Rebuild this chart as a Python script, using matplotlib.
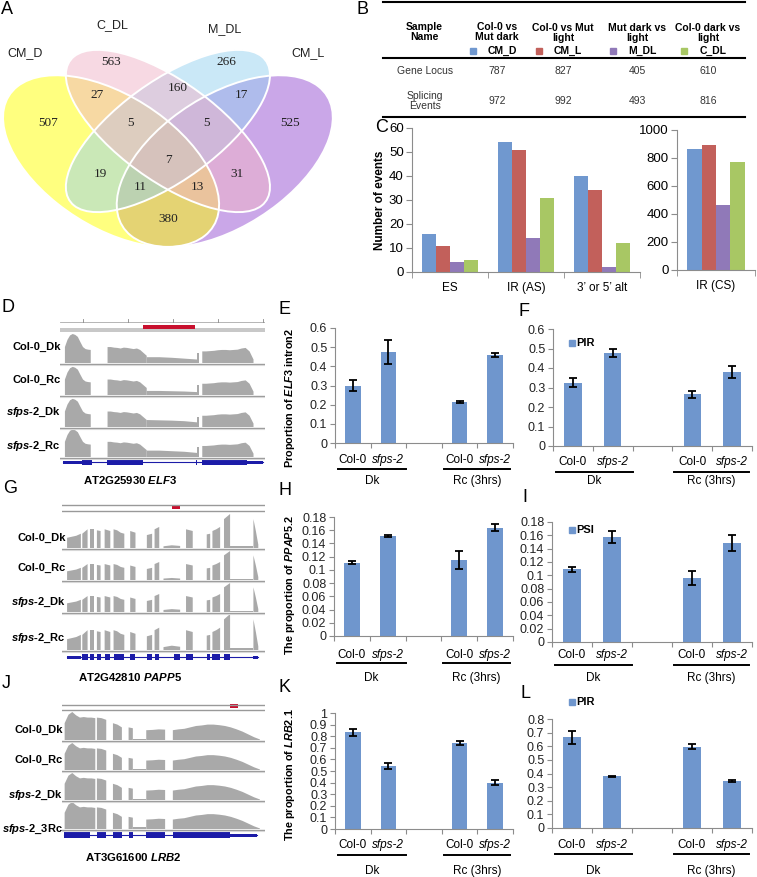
import numpy as np
import matplotlib
matplotlib.use('Agg')
import matplotlib.pyplot as plt
from matplotlib.patches import Ellipse, Rectangle
from matplotlib.lines import Line2D

plt.rcParams['font.family'] = ['Liberation Sans', 'DejaVu Sans']
plt.rcParams['mathtext.fontset'] = 'custom'
plt.rcParams['mathtext.it'] = 'Liberation Sans:italic:bold'
plt.rcParams['mathtext.rm'] = 'Liberation Sans:bold'
plt.rcParams['mathtext.bf'] = 'Liberation Sans:bold'

# ---------------- DATA ----------------
venn_sets = ['CM_D', 'C_DL', 'M_DL', 'CM_L']
venn_regions = ['A', 'B', 'C', 'D', 'AB', 'BC', 'CD', 'ABC', 'BCD', 'ABCD', 'AC', 'BD', 'ACD', 'ABD', 'AD']
venn_counts = [507, 563, 266, 525, 27, 160, 17, 5, 5, 7, 19, 31, 11, 13, 380]

table_cols = ['Col-0 vs\nMut dark', 'Col-0 vs Mut\nlight', 'Mut dark vs\nlight', 'Col-0 dark vs\nlight']
table_keys = ['CM_D', 'CM_L', 'M_DL', 'C_DL']
table_gene_locus = [787, 827, 405, 610]
table_splicing = [972, 992, 493, 816]

C_categories = ['ES', 'IR (AS)', '3\u2019 or 5\u2019 alt', 'IR (CS)']
C_CM_D = [16, 54, 40, 866]
C_CM_L = [11, 51, 34, 895]
C_M_DL = [4, 14, 2, 465]
C_C_DL = [5, 31, 12, 770]

track_names = ['Col-0_Dk', 'Col-0_Rc', '$\\mathit{sfps}$-$\\mathit{2}$_Dk', '$\\mathit{sfps}$-$\\mathit{2}$_Rc']
track_names_J = ['Col-0_Dk', 'Col-0_Rc', '$\\mathit{sfps}$-$\\mathit{2}$_Dk', '$\\mathit{sfps}$-$\\mathit{2}$_3Rc']

ELF3_blocks = [(2.4, 15.0, [.55, .8, .95, 1.0, .97, .9, .72, .55, .48, .46, .45]),
               (23.2, 42.3, [.55, .55, .53, .52, .5, .53, .52, .5, .48, .5, .45, .35, .25]),
               (66.9, 67.9, [.35, .35]),
               (69.4, 94.4, [.4, .4, .41, .42, .44, .45, .45, .44, .45, .46, .5, .52, .4, .12])]
ELF3_intron = (42.3, 66.9)
ELF3_intron_cov = [[.2, .2, .18, .15, .12], [.14, .14, .13, .12, .1],
                   [.24, .23, .22, .2, .16], [.22, .22, .2, .18, .14]]
ELF3_scale = [1.0, 0.97, 0.97, 0.95]
ELF3_model = [(1.5, 10.7, 'utr'), (10.7, 15.6, 'cds'), (22.9, 40.5, 'cds'), (66.2, 67.0, 'cds'),
              (69.3, 91.2, 'cds'), (91.2, 99.0, 'utr')]

PAPP5_blocks = [(2.5, 9.3, [.30, .33, .36, .42]), (10.0, 12.6, [.42, .55]), (13.9, 15.7, [.55, .55]),
                (17.2, 19.0, [.52, .50]), (21.0, 23.8, [.55, .5]), (25.4, 30.7, [.55, .52, .45, .42]),
                (33.6, 36.2, [.5, .45]), (41.8, 44.4, [.38, .42]), (45.6, 47.9, [.55, .62]),
                (61.1, 64.4, [.55, .5]), (71.3, 73.0, [.4, .42]), (74.1, 77.9, [.5, .55, .62]),
                (79.8, 82.8, [.85, 1.0]), (82.8, 94.3, [.05, .05]), (94.3, 96.7, [.85, .5, .1])]
PAPP5_intron = (50.0, 58.2)
PAPP5_intron_cov = [[.05, .08, .06], [.05, .07, .05], [.07, .1, .08], [.08, .12, .09]]
PAPP5_scale = [1.0, 1.0, 1.0, 1.0]
PAPP5_model = [(2.5, 9.3, 'utr'), (10.0, 12.6, 'cds'), (13.9, 15.7, 'cds'), (17.2, 19.0, 'cds'),
               (21.0, 23.8, 'cds'), (25.4, 30.7, 'cds'), (33.6, 36.2, 'cds'), (41.8, 44.4, 'cds'),
               (45.6, 47.9, 'cds'), (55.0, 58.2, 'cds'), (61.1, 64.4, 'cds'), (71.3, 73.0, 'cds'),
               (74.1, 77.9, 'cds'), (79.8, 82.8, 'cds'), (94.3, 96.7, 'utr')]

LRB2_blocks = [(1.3, 16.4, [.6, .9, 1.0, .88, .8, .82, .8, .8, .78]), (17.2, 21.8, [.8, .78, .72]),
               (25.1, 29.5, [.6, .55, .45]), (32.8, 34.9, [.45, .42]), (41.5, 50.8, [.35, .36, .38, .37]),
               (54.6, 97.5, [.35, .38, .4, .45, .5, .52, .55, .55, .53, .5, .45, .38, .3, .2, .1, .02])]
LRB2_intron = (34.9, 41.5)
LRB2_intron_cov = [[.04, .04], [.03, .03], [.05, .05], [.06, .06]]
LRB2_scale = [1.0, 1.0, 1.0, 1.0]
LRB2_model = [(1.0, 14.0, 'cds'), (17.2, 21.8, 'cds'), (25.1, 29.5, 'cds'), (32.8, 34.9, 'cds'),
              (41.5, 50.8, 'cds'), (54.6, 83.0, 'cds'), (83.0, 96.0, 'utr')]

bar_groups = ['Dk', 'Rc (3hrs)']
bar_genotypes = ['Col-0', 'sfps-2']
E_vals = [0.30, 0.475, 0.215, 0.46];   E_err = [0.03, 0.062, 0.006, 0.012]
F_vals = [0.325, 0.478, 0.265, 0.378]; F_err = [0.024, 0.02, 0.017, 0.03]
H_vals = [0.111, 0.151, 0.115, 0.164]; H_err = [0.002, 0.002, 0.014, 0.005]
I_vals = [0.109, 0.158, 0.096, 0.149]; I_err = [0.004, 0.009, 0.011, 0.012]
K_vals = [0.835, 0.54, 0.74, 0.40];    K_err = [0.03, 0.025, 0.017, 0.022]
L_vals = [0.665, 0.38, 0.595, 0.345];  L_err = [0.045, 0.005, 0.018, 0.006]

# ---------------- STYLE / LAYOUT ----------------
W, H = 757, 877
fig = plt.figure(figsize=(W / 100, H / 100), dpi=100)
BAR_BLUE = '#6F96CD'
C_COLORS = ['#7098CF', '#C2605B', '#9079B8', '#A8C764']
AXC = '#8C8C8C'
COV = '#A9A9A9'
GENE = '#1C1CA8'


def fx(x):
    return x / W


def fy(y):
    return 1 - y / H


def add_ax(x0, y0, x1, y1):
    return fig.add_axes([x0 / W, 1 - y1 / H, (x1 - x0) / W, (y1 - y0) / H])


def ftext(x, y, s, **kw):
    kw.setdefault('ha', 'center')
    kw.setdefault('va', 'center')
    return fig.text(fx(x), fy(y), s, **kw)


def fline(x0, x1, y0, y1=None, lw=1.0, color='black'):
    if y1 is None:
        y1 = y0
    fig.add_artist(Line2D([fx(x0), fx(x1)], [fy(y0), fy(y1)], lw=lw, color=color))


# panel letters
for letter, (lx, ly) in zip('ABCDEFGHIJKL',
                            [(7, 9), (363, 9), (382, 127), (8, 308), (285, 309), (524, 312),
                             (10, 489), (285, 491), (525, 498), (6, 684), (285, 688), (525, 694)]):
    ftext(lx, ly, letter, fontsize=13, ha='center')

# ---------------- A: Venn ----------------
axA = add_ax(0, 40, 340, 250)
axA.set_xlim(0.057, 0.954)
axA.set_ylim(0.175, 0.872)
axA.axis('off')
ell_params = {  # canonical 4-set layout
    'CM_D': ((0.35, 0.47), 0.70, 0.40, 135),
    'C_DL': ((0.50, 0.57), 0.70, 0.30, 135),
    'M_DL': ((0.50, 0.57), 0.70, 0.30, 45),
    'CM_L': ((0.65, 0.47), 0.70, 0.40, 45),
}
venn_colors = {'CM_D': '#FFFF00', 'C_DL': '#F0B4C8', 'M_DL': '#96D2F0', 'CM_L': '#9650D2'}
for s in ['CM_L', 'CM_D', 'M_DL', 'C_DL']:
    c, w, h, a = ell_params[s]
    axA.add_patch(Ellipse(c, w, h, angle=a, facecolor=venn_colors[s], alpha=0.5, edgecolor='none'))
for s in venn_sets:
    c, w, h, a = ell_params[s]
    axA.add_patch(Ellipse(c, w, h, angle=a, facecolor='none', edgecolor='white', lw=1.4))
venn_label_pos = {'A': (48, 123), 'B': (111, 62), 'C': (226, 62), 'D': (290, 123), 'AB': (97, 95),
                  'BC': (178, 88), 'CD': (241, 95), 'ABC': (130, 123), 'BCD': (207, 123),
                  'ABCD': (168, 160), 'AC': (100, 174), 'BD': (237, 174), 'ACD': (140, 187),
                  'ABD': (197, 187), 'AD': (168, 219)}
for r, n in zip(venn_regions, venn_counts):
    px, py = venn_label_pos[r]
    ftext(px, py, str(n), fontsize=9.5, family='Liberation Serif', color='#222222')
for s, (px, py) in zip(venn_sets, [(25, 53), (112, 25), (225, 29), (308, 53)]):
    ftext(px, py, s, fontsize=9, color='#222222')

# ---------------- B: table ----------------
fline(383, 745, 2, lw=1.5)
fline(383, 745, 58, lw=1.5)
fline(383, 745, 117, lw=1.5)
ftext(424, 32, 'Sample\nName', fontsize=7.5, fontweight='bold', linespacing=1.05)
col_x = [497, 563, 637, 708]
for i, (cx, head, key) in enumerate(zip(col_x, table_cols, table_keys)):
    ftext(cx, 32 if i == 0 else 33, head, fontsize=7.5, fontweight='bold', linespacing=1.05)
    ftext(cx + 5, 51, key, fontsize=7.5, fontweight='bold')
    fig.add_artist(Rectangle((fx(cx - 27), fy(54)), 6 / W, 6 / H, color=C_COLORS[i]))
    ftext(cx, 71, str(table_gene_locus[i]), fontsize=7.5, color='#333333')
    ftext(cx, 101, str(table_splicing[i]), fontsize=7.5, color='#333333')
ftext(425, 71, 'Gene Locus', fontsize=7.5, color='#333333')
ftext(425, 101, 'Splicing\nEvents', fontsize=7.5, color='#333333', linespacing=1.05)

# ---------------- C: bar chart ----------------
series = [C_CM_D, C_CM_L, C_M_DL, C_C_DL]
bw = 0.185


def style_c(ax, n):
    for sp in ['top', 'right']:
        ax.spines[sp].set_visible(False)
    for sp in ['left', 'bottom']:
        ax.spines[sp].set_color(AXC)
    ax.set_xlim(-0.5, n - 0.5)
    ax.set_xticks(range(n))
    ax.set_xticks(np.arange(-0.5, n, 1), minor=True)
    ax.tick_params(axis='x', which='major', length=0, pad=7, labelsize=8.5)
    ax.tick_params(axis='x', which='minor', length=4, color=AXC, direction='out')
    ax.tick_params(axis='y', length=4, color=AXC, labelsize=9.5, pad=2)


axC1 = add_ax(412, 128, 640, 272)
for k, sv in enumerate(series):
    axC1.bar(np.arange(3) + (k - 1.5) * bw, sv[:3], width=bw, color=C_COLORS[k])
axC1.set_ylim(0, 60)
axC1.set_yticks(range(0, 61, 10))
style_c(axC1, 3)
axC1.set_xticklabels(C_categories[:3])
axC1.set_ylabel('Number of events', fontsize=8.5, fontweight='bold', labelpad=2)

axC2 = add_ax(677, 130, 755, 270)
for k, sv in enumerate(series):
    axC2.bar([(k - 1.5) * bw], sv[3:], width=bw, color=C_COLORS[k])
axC2.set_ylim(0, 1000)
axC2.set_yticks(range(0, 1001, 200))
style_c(axC2, 1)
axC2.set_xticklabels(C_categories[3:])


# ---------------- D, G, J: coverage tracks ----------------
def draw_tracks(box, blocks, intron, intron_cov, scales, baselines, heights, names, label_x,
                label_ys, model, model_y, gene_label, gene_label_xy):
    x0, y0, x1, y1 = box
    ax = add_ax(x0, y0, x1, y1)
    ax.set_xlim(0, 100)
    ax.set_ylim(y1, y0)
    ax.axis('off')
    for t, (base, hgt) in enumerate(zip(baselines, heights)):
        sc = scales[t]
        for (s, e, hs) in blocks:
            xs = np.linspace(s, e, len(hs))
            ax.fill(np.r_[s, xs, e], np.r_[base, base - np.array(hs) * hgt * sc, base],
                    color=COV, lw=0)
        ih = intron_cov[t]
        xs = np.linspace(intron[0], intron[1], len(ih))
        ax.fill(np.r_[intron[0], xs, intron[1]], np.r_[base, base - np.array(ih) * hgt, base],
                color=COV, lw=0)
        ax.plot([0, 100], [base + 0.6, base + 0.6], color='#9A9A9A', lw=1.0)
        ax.plot([0, 100], [base + 1.8, base + 1.8], color='#D8D8D8', lw=0.8)
        ftext(label_x, label_ys[t], names[t], fontsize=8, fontweight='bold', ha='right')
    # gene model
    starts = [b[0] for b in model]
    ends = [b[1] for b in model]
    ax.plot([min(starts), max(ends)], [model_y, model_y], color=GENE, lw=0.8)
    for (s, e, kind) in model:
        hh = 5.5 if kind == 'cds' else 3.0
        ax.add_patch(Rectangle((s, model_y - hh / 2), e - s, hh, color=GENE, lw=0))
    ftext(gene_label_xy[0], gene_label_xy[1], gene_label, fontsize=8.2, fontweight='bold')
    return ax


axD = draw_tracks((60, 313, 265, 473), ELF3_blocks, ELF3_intron, ELF3_intron_cov, ELF3_scale,
                  [363, 395, 427, 457], [29, 29, 29, 29], track_names, 61, [347, 380, 412, 446],
                  ELF3_model, 462, 'AT2G25930 $\\mathit{ELF3}$', (130, 480))
axD.plot([0, 100], [322, 322], color='#AAAAAA', lw=0.6)
for tx in [11.4, 33.3, 55.3, 77.2, 99.2]:
    axD.plot([tx, tx], [322, 319], color='#888888', lw=0.6)
axD.add_patch(Rectangle((0, 328), 100, 4, color='#C8C8C8', lw=0))
axD.add_patch(Rectangle((40.7, 325), 25.2, 3.5, color='#C8102E', lw=0))

axG = draw_tracks((62, 503, 265, 665), PAPP5_blocks, PAPP5_intron, PAPP5_intron_cov, PAPP5_scale,
                  [548, 580, 612, 650], [34, 29, 29, 36], track_names, 66, [538, 568, 602, 638],
                  PAPP5_model, 657, 'AT2G42810 $\\mathit{PAPP5}$', (130, 677))
axG.plot([0, 100], [505, 505], color='#999999', lw=1.0)
axG.plot([0, 100], [511, 511], color='#999999', lw=1.0)
axG.add_patch(Rectangle((54, 505), 4, 3.5, color='#C8102E', lw=0))

axJ = draw_tracks((62, 702, 265, 842), LRB2_blocks, LRB2_intron, LRB2_intron_cov, LRB2_scale,
                  [740, 770, 800, 829], [28, 27, 27, 27], track_names_J, 63, [730, 760, 795, 829],
                  LRB2_model, 835, 'AT3G61600 $\\mathit{LRB2}$', (133, 857))
axJ.plot([0, 100], [705, 705], color='#999999', lw=1.0)
axJ.plot([0, 100], [710, 710], color='#999999', lw=1.0)
axJ.add_patch(Rectangle((82.8, 704), 4.1, 3.5, color='#C8102E', lw=0))


# ---------------- E, F, H, I, K, L: bar charts ----------------
def bar_panel(box, vals, errs, ymax, ystep, lab_y, ul_y, grp_y, ylabel=None, ylabel_xy=None,
              legend=None, legend_xy=None):
    x0, y0, x1, y1 = box
    ax = add_ax(x0, y0, x1, y1)
    pos = [0, 1, 3, 4]
    ax.bar(pos, vals, width=0.44, color=BAR_BLUE, zorder=2)
    ax.errorbar(pos, vals, yerr=errs, fmt='none', ecolor='black', elinewidth=1.3, capsize=3.2,
                capthick=1.3, zorder=3)
    ax.set_xlim(-0.5, 4.5)
    ax.set_ylim(0, ymax)
    ticks = np.arange(0, ymax + ystep / 2, ystep)
    ax.set_yticks(ticks)
    ax.set_yticklabels([f'{t:g}' for t in ticks])
    ax.set_xticks(np.arange(-0.5, 4.6, 1))
    ax.set_xticklabels([])
    for sp in ['top', 'right']:
        ax.spines[sp].set_visible(False)
    for sp in ['left', 'bottom']:
        ax.spines[sp].set_color(AXC)
    ax.tick_params(axis='y', length=3.5, color=AXC, labelsize=9, pad=2, labelcolor='#222222')
    ax.tick_params(axis='x', length=3.5, color=AXC)

    def dx(d):
        return x0 + (d + 0.5) / 5 * (x1 - x0)

    for p, g in zip(pos, bar_genotypes * 2):
        ftext(dx(p), lab_y, g, fontsize=8.5, style='italic' if g != 'Col-0' else 'normal')
    for (a, b), grp in zip([(-0.42, 1.5), (2.55, 4.42)], bar_groups):
        fline(dx(a), dx(b), ul_y, lw=1.4)
        ftext(dx((a + b) / 2), grp_y, grp, fontsize=8.5)
    if ylabel:
        ftext(ylabel_xy[0], ylabel_xy[1], ylabel, fontsize=7.8, fontweight='bold', rotation=90)
    if legend:
        fig.add_artist(Rectangle((fx(legend_xy[0] - 3), fy(legend_xy[1] + 3)), 6 / W, 6 / H,
                                 color=BAR_BLUE))
        ftext(legend_xy[0] + 4, legend_xy[1], legend, fontsize=8, fontweight='bold', ha='left')
    return ax


bar_panel((335, 328, 513, 443), E_vals, E_err, 0.6, 0.1, 460, 469, 481,
          'Proportion of $\\mathit{ELF3}$ intron2', (290, 398))
bar_panel((553, 329, 752, 446), F_vals, F_err, 0.6, 0.1, 462, 472, 481,
          legend='PIR', legend_xy=(572, 343))
bar_panel((334, 517, 513, 636), H_vals, H_err, 0.18, 0.02, 655, 663, 678,
          'The proportion of $\\mathit{PPAP5.2}$', (290, 585))
bar_panel((552, 522, 752, 642), I_vals, I_err, 0.18, 0.02, 655, 665, 678,
          legend='PSI', legend_xy=(572, 530))
bar_panel((335, 713, 513, 829), K_vals, K_err, 1.0, 0.1, 845, 855, 871,
          'The proportion of $\\mathit{LRB2.1}$', (290, 775))
bar_panel((552, 719, 752, 828), L_vals, L_err, 0.8, 0.1, 845, 854, 871,
          legend='PIR', legend_xy=(572, 702))

fig.savefig('out.png', dpi=100)
